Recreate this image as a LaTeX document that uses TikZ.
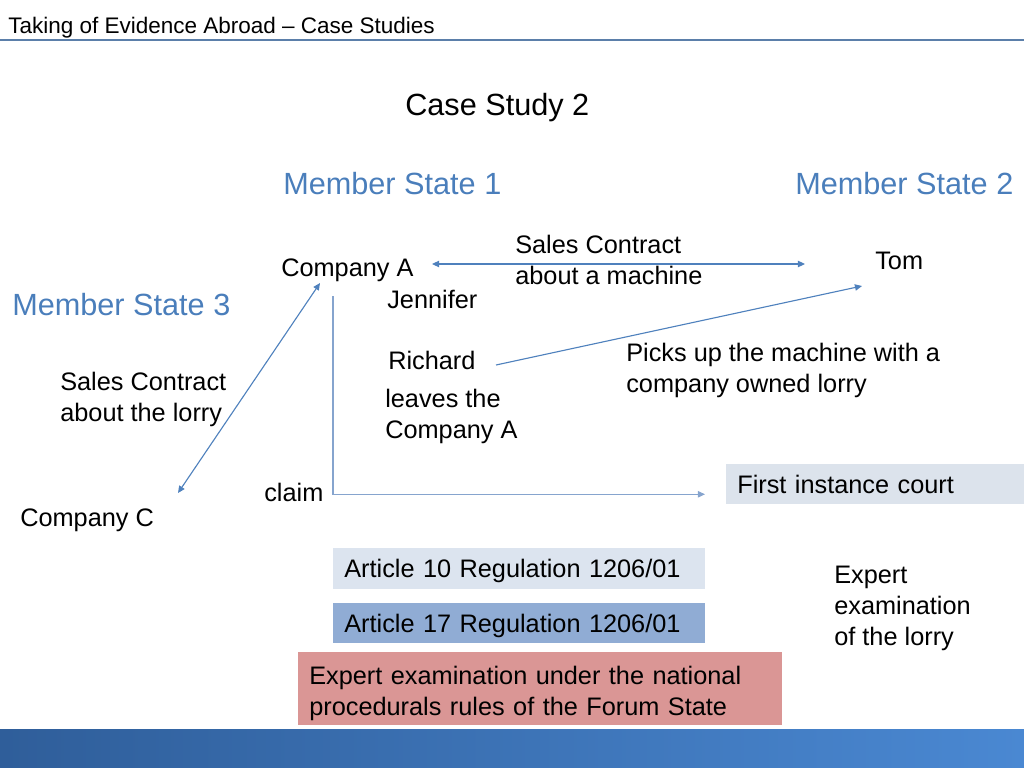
\documentclass[tikz,border=0pt]{standalone}
\usepackage{fontspec}
\setmainfont{Liberation Sans}
\usetikzlibrary{arrows.meta,calc}

\definecolor{msBlue}{HTML}{4A7EBB}
\definecolor{arrBlue}{HTML}{4F81BD}
\definecolor{claimBlue}{HTML}{86A4CE}
\definecolor{lineBlue}{HTML}{5B7FAA}
\definecolor{courtFill}{HTML}{DCE3EC}
\definecolor{artTenFill}{HTML}{DCE4EF}
\definecolor{artSevFill}{HTML}{90ACD4}
\definecolor{expFill}{HTML}{DA9695}
\definecolor{barDark}{HTML}{2F5E9A}
\definecolor{barLight}{HTML}{4A88D2}

\tikzset{
  lbl/.style={anchor=base west,inner sep=0pt,align=left,font=\fontsize{18}{22}\selectfont},
  state/.style={anchor=base west,inner sep=0pt,text=msBlue,font=\fontsize{21.8}{26}\selectfont},
  link/.style={draw=arrBlue,line width=0.8pt,-{Triangle[length=5pt,width=4.5pt]}},
  twoway/.style={link,{Triangle[length=5pt,width=4.5pt]}-{Triangle[length=5pt,width=4.5pt]}},
  box/.style={anchor=north west,inner xsep=0.275cm,inner ysep=0pt,align=left,
    font=\fontsize{18}{22}\selectfont},
  onebox/.style={box,text depth=-3pt}
}

\begin{document}
\begin{tikzpicture}[x=0.025cm,y=-0.025cm]
\useasboundingbox (0,0) rectangle (1024,768);

% heading
\node[anchor=base west,inner sep=0pt,font=\fontsize{16}{19}\selectfont] (hdr) at (8,34) {Taking of Evidence Abroad -- Case Studies};
\draw[lineBlue,line width=1.4pt] (0,40) -- (1024,40);
\node[anchor=base west,inner sep=0pt,font=\fontsize{21.8}{26}\selectfont] (title) at (405,116) {Case Study 2};

\node[state] (ms1) at (283,194) {Member State 1};
\node[state] (ms2) at (795,194) {Member State 2};
\node[state] (ms3) at (12,315) {Member State 3};

% parties (base of a multi-line node = its last line)
\node[lbl] (compA) at (281,276) {Company A};
\node[lbl] (contract) at (515,284) {Sales Contract\\about a machine};
\node[lbl] (tom) at (875,269) {Tom};
\node[lbl] (jennifer) at (387,308) {Jennifer};
\node[lbl] (richard) at (388,369) {Richard};
\node[lbl] (leaves) at (385,438) {leaves the\\Company A};
\node[lbl] (picks) at (626,392) {Picks up the machine with a\\company owned lorry};
\node[lbl] (lorry) at (60,421) {Sales Contract\\about the lorry};
\node[lbl] (claim) at (264,501) {claim};
\node[lbl] (compC) at (20,526) {Company C};
\node[lbl] (exam) at (834,645) {Expert\\examination\\of the lorry};

% boxes
\node[onebox,fill=courtFill,minimum width=7.45cm,minimum height=1cm,text width=6.9cm] (court) at (726,464) {First instance court};
\node[onebox,fill=artTenFill,minimum width=9.3cm,minimum height=1.025cm,text width=8.75cm] (art10) at (333,548) {Article 10 Regulation 1206/01};
\node[onebox,fill=artSevFill,minimum width=9.3cm,minimum height=1cm,text width=8.75cm] (art17) at (333,603) {Article 17 Regulation 1206/01};
\node[box,fill=expFill,minimum width=12.1cm,minimum height=1.825cm,text width=11.55cm] (expert) at (298,652) {\rule{0pt}{19pt}Expert examination under the national\\procedurals rules of the Forum State};

% connectors
\draw[twoway] ($(compA.base west)+(151,-12)$) -- ($(tom.base west)+(-70,-5)$);
\draw[twoway] ($(compA.base west)+(39,7)$) -- ($(compC.base west)+(158,-33)$);
\draw[link] ($(richard.base west)+(108,-4)$) -- ($(tom.base west)+(-13,17)$);
\draw[link,draw=claimBlue] ($(claim.base west)+(69,-205)$) |- ($(court.west)+(-21,10)$);

\shade[left color=barDark,right color=barLight] (0,729) rectangle (1024,768);

\end{tikzpicture}
\end{document}
